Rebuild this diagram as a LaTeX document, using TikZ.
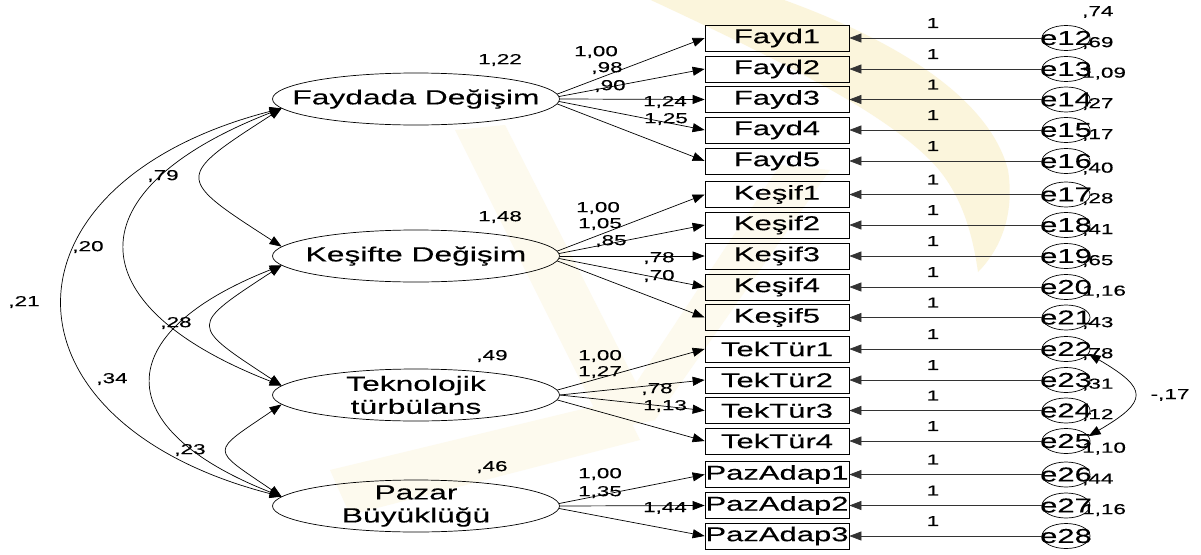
\documentclass[tikz,border=0pt]{standalone}
\usepackage{fontspec}
\setmainfont{Liberation Sans}
\newfontfamily\amos[FakeStretch=1.55,FakeBold=0.2]{Liberation Sans}
\usetikzlibrary{arrows.meta,shapes.geometric}
\definecolor{wm}{RGB}{251,245,220}
\definecolor{wmlight}{RGB}{253,250,238}
\begin{document}
\begin{tikzpicture}[x=1pt,y=-1pt,
  lat/.style={draw, ellipse, minimum width=287pt, minimum height=52pt, inner sep=0pt, line width=0.7pt},
  lattext/.style={font=\amos\fontsize{20.5}{23}\selectfont, align=center, inner sep=0pt},
  obs/.style={draw, rectangle, minimum width=144pt, minimum height=26pt, inner sep=0pt, line width=0.7pt, font=\amos\fontsize{20}{22}\selectfont},
  err/.style={draw, ellipse, minimum width=48pt, minimum height=25pt, inner sep=0pt, line width=0.7pt},
  errtext/.style={font=\amos\fontsize{20}{22}\selectfont, inner sep=0pt},
  num/.style={font=\amos\fontsize{14.5}{16}\selectfont, inner sep=0pt},
  reg/.style={-{Triangle[length=12pt,width=9pt]}, line width=0.7pt},
  erl/.style={-{Triangle[length=12pt,width=9pt]}, line width=0.7pt, black!80},
  cov/.style={{Triangle[length=12pt,width=9pt]}-{Triangle[length=12pt,width=9pt]}, line width=0.7pt},
]
\fill[white] (0,0) rectangle (1201,554);
\useasboundingbox (0,0) rectangle (1201,554);

% faint background watermark
\fill[wm] (640,-5) -- (770,-5) .. controls (900,40) and (990,100) .. (1008,170)
  .. controls (1015,215) and (1000,250) .. (978,272)
  .. controls (972,230) and (960,190) .. (930,160)
  .. controls (880,110) and (780,60) .. (640,-5) -- cycle;
\fill[wmlight] (455,130) -- (505,125) -- (655,420) -- (605,430) -- cycle;
\fill[wmlight] (605,430) -- (655,420) -- (830,170) -- (780,165) -- cycle;
\fill[wmlight] (330,470) -- (620,400) -- (640,440) -- (350,515) -- cycle;

% latent variables
\node[lat, label={[lattext]center:Faydada Değişim}] (F) at (416,99) {};
\node[lat, label={[lattext]center:Keşifte Değişim}] (K) at (416,256) {};
\node[lat, label={[lattext]center:{Teknolojik\\türbülans}}] (T) at (416,395) {};
\node[lat, label={[lattext]center:{Pazar\\Büyüklüğü}}] (P) at (416,506) {};

% observed variables
\node[obs] (f1) at (777,38) {Fayd1};
\node[obs] (f2) at (777,69) {Fayd2};
\node[obs] (f3) at (777,99.5) {Fayd3};
\node[obs] (f4) at (777,130) {Fayd4};
\node[obs] (f5) at (777,161) {Fayd5};
\node[obs] (k1) at (777,194.5) {Keşif1};
\node[obs] (k2) at (777,225) {Keşif2};
\node[obs] (k3) at (777,256) {Keşif3};
\node[obs] (k4) at (777,287) {Keşif4};
\node[obs] (k5) at (777,317.5) {Keşif5};
\node[obs] (t1) at (777,349) {TekTür1};
\node[obs] (t2) at (777,380) {TekTür2};
\node[obs] (t3) at (777,410.5) {TekTür3};
\node[obs] (t4) at (777,441) {TekTür4};
\node[obs] (p1) at (777,474.5) {PazAdap1};
\node[obs] (p2) at (777,505.5) {PazAdap2};
\node[obs] (p3) at (777,536) {PazAdap3};

% error terms
\foreach \n/\b/\v [count=\i from 12] in {e12/f1/{,74},e13/f2/{,69},e14/f3/{1,09},e15/f4/{,27},e16/f5/{,17},
  e17/k1/{,40},e18/k2/{,28},e19/k3/{,41},e20/k4/{,65},e21/k5/{1,16},
  e22/t1/{,43},e23/t2/{,78},e24/t3/{,31},e25/t4/{,12},
  e26/p1/{1,10},e27/p2/{,44},e28/p3/{1,16}}{
  \path (\b.center) ++(289,0) node[err, label={[errtext]center:e\i}] (\n) {};
  \draw[erl] (\n.west) -- (\b.east);
  \path (\b.center) ++(156,-15) node[num] (one\i) {1};
  \path (\b.center) ++(305,-26) node[num, anchor=west] (var\i) {\v};
}

% regression paths
\draw[reg] (F.2.5) -- (f1.west);
\draw[reg] (F.1.2) -- (f2.west);
\draw[reg] (F.0) -- (f3.west);
\draw[reg] (F.-1.2) -- (f4.west);
\draw[reg] (F.-2.5) -- (f5.west);
\draw[reg] (K.2.5) -- (k1.west);
\draw[reg] (K.1.2) -- (k2.west);
\draw[reg] (K.0) -- (k3.west);
\draw[reg] (K.-1.2) -- (k4.west);
\draw[reg] (K.-2.5) -- (k5.west);
\draw[reg] (T.2) -- (t1.west);
\draw[reg] (T.0.7) -- (t2.west);
\draw[reg] (T.-0.7) -- (t3.west);
\draw[reg] (T.-2) -- (t4.west);
\draw[reg] (P.1.5) -- (p1.west);
\draw[reg] (P.0) -- (p2.west);
\draw[reg] (P.-1.5) -- (p3.west);

% loadings
\node[num] (lf1) at (596,52) {1,00};
\node[num] (lf2) at (607,68) {,98};
\node[num] (lf3) at (610,86) {,90};
\node[num] (lf4) at (665,102) {1,24};
\node[num] (lf5) at (666,119) {1,25};
\node[num] (lk1) at (598,208) {1,00};
\node[num] (lk2) at (600,224) {1,05};
\node[num] (lk3) at (611,241) {,85};
\node[num] (lk4) at (659,258) {,78};
\node[num] (lk5) at (659,276) {,70};
\node[num] (lt1) at (600,356) {1,00};
\node[num] (lt2) at (600,372) {1,27};
\node[num] (lt3) at (657,389) {,78};
\node[num] (lt4) at (665,406) {1,13};
\node[num] (lp1) at (600,474) {1,00};
\node[num] (lp2) at (600,492) {1,35};
\node[num] (lp3) at (665,508) {1,44};

% latent variances
\node[num] (vF) at (500,60) {1,22};
\node[num] (vK) at (500,217) {1,48};
\node[num] (vT) at (492,356) {,49};
\node[num] (vP) at (492,467) {,46};

% covariances between latent variables
\draw[cov] (F.184) .. controls +(-107,69) and +(-107,-69) .. (K.176);
\draw[cov] (F.184) .. controls +(-208,81) and +(-208,-81) .. (T.176);
\draw[cov] (F.184) .. controls +(-291,75) and +(-291,-75) .. (P.176);
\draw[cov] (K.184) .. controls +(-93,61) and +(-93,-61) .. (T.176);
\draw[cov] (K.184) .. controls +(-173,68) and +(-173,-68) .. (P.176);
\draw[cov] (T.184) .. controls +(-72,49) and +(-72,-49) .. (P.176);

\node[num] (cFK) at (163,176) {,79};
\node[num] (cFT) at (88,247) {,20};
\node[num] (cFP) at (24,302) {,21};
\node[num] (cKT) at (176,323) {,28};
\node[num] (cKP) at (112,379) {,34};
\node[num] (cTP) at (190,450) {,23};

% error covariance
\draw[cov] (e22.-12) .. controls +(60,35) and +(60,-35) .. (e25.12);
\node[num] (c2225) at (1170,395) {-,17};
\end{tikzpicture}
\end{document}
